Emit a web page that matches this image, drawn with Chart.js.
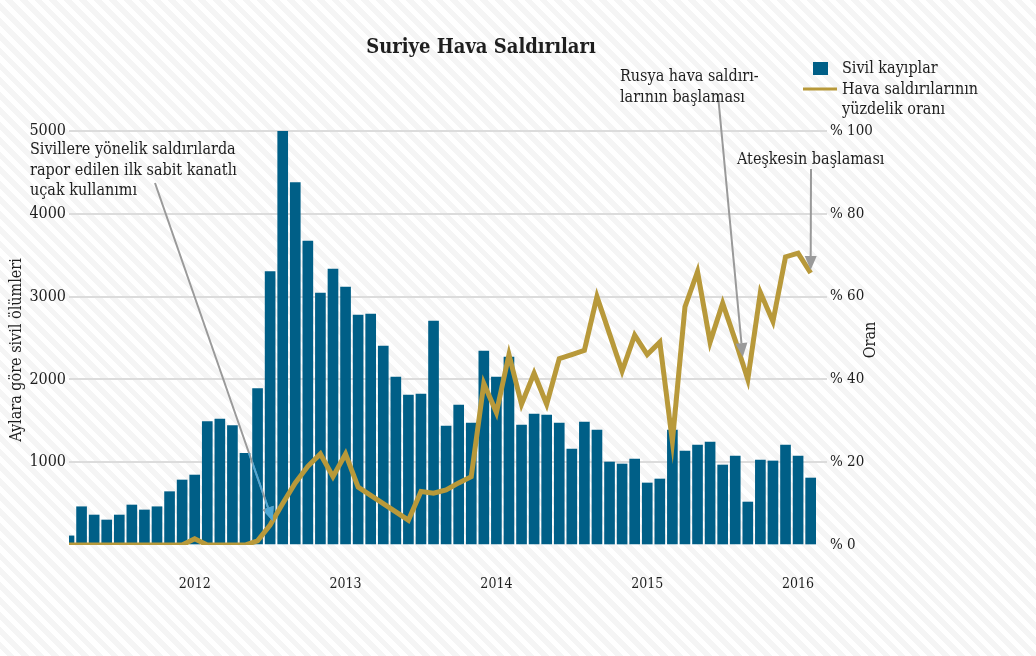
<!DOCTYPE html>
<html>
<head>
<meta charset="utf-8">
<script src="https://cdn.jsdelivr.net/npm/chart.js@4.4.1/dist/chart.umd.min.js"></script>
<style>
  html, body { margin: 0; padding: 0; }
  body {
    width: 1036px; height: 656px; overflow: hidden;
    background: repeating-linear-gradient(45deg, #ffffff 0px, #ffffff 5px, #f5f5f5 5px, #f5f5f5 10.5px);
  }
  canvas { display: block; }
</style>
</head>
<body>
<canvas id="chart" width="1036" height="656"></canvas>
<script>
// Monthly data, March 2011 - February 2016
const months = [
  '2011-03','2011-04','2011-05','2011-06','2011-07','2011-08','2011-09','2011-10','2011-11','2011-12',
  '2012-01','2012-02','2012-03','2012-04','2012-05','2012-06','2012-07','2012-08','2012-09','2012-10','2012-11','2012-12',
  '2013-01','2013-02','2013-03','2013-04','2013-05','2013-06','2013-07','2013-08','2013-09','2013-10','2013-11','2013-12',
  '2014-01','2014-02','2014-03','2014-04','2014-05','2014-06','2014-07','2014-08','2014-09','2014-10','2014-11','2014-12',
  '2015-01','2015-02','2015-03','2015-04','2015-05','2015-06','2015-07','2015-08','2015-09','2015-10','2015-11','2015-12',
  '2016-01','2016-02'
];

// civilian deaths per month
const civilianDeaths = [
  110, 462, 362, 302, 362, 483, 423, 462, 644, 785,
  845, 1490, 1522, 1441, 1107, 1888, 3301, 5000, 4376, 3671, 3043, 3333,
  3116, 2778, 2790, 2403, 2029, 1812, 1824, 2705, 1437, 1691, 1473, 2343,
  2029, 2271, 1449, 1582, 1570, 1473, 1159, 1485, 1389, 1002, 978, 1039,
  749, 797, 1389, 1135, 1208, 1244, 966, 1075, 519, 1027, 1015, 1208,
  1075, 809
];

// share of deaths caused by air strikes (%)
const airStrikeShare = [
  0, 0, 0, 0, 0, 0, 0, 0, 0, 0,
  1.5, 0, 0, 0, 0, 1, 4.8, 10, 15, 19, 22, 16.5,
  22, 14, 12, 10, 8, 6, 12.9, 12.5, 13.3, 15, 16.5, 39,
  32, 46, 34, 41.5, 34, 45, 46, 47, 60, 51, 42, 50.7,
  46, 49, 25, 57.5, 66, 49, 58.4, 49.5, 40, 61, 54, 69.6,
  70.5, 65.7
];

const seriesNames = ['Sivil kayıplar', 'Hava saldırılarının\nyüzdelik oranı'];
const deathTicks = [0, 1000, 2000, 3000, 4000, 5000];
const shareTicks = [0, 20, 40, 60, 80, 100];

// year ticks sit on each January
const yearTicks = months
  .map((m, i) => ({ m, i }))
  .filter(d => d.m.endsWith('-01'))
  .map(d => ({ value: d.i, label: d.m.slice(0, 4) }));

const colors = {
  bar: '#005f87',
  line: '#b8993a',
  grid: '#dcdcdc',
  text: '#1e1e1e',
  arrow: '#9a9a9a',
  arrowOnBar: '#4ea8d6'
};

const serif = '"DejaVu Serif Condensed", "DejaVu Serif", serif';

// annotation arrows: start in pixels (under the text), tip in data units
const notes = [
  { lines: ['Sivillere yönelik saldırılarda', 'rapor edilen ilk sabit kanatlı', 'uçak kullanımı'],
    x: 30, y: 150, from: [155, 183], tip: [16.2, 5.8], overBars: true },
  { lines: ['Rusya hava saldırı-', 'larının başlaması'],
    x: 620, y: 77, from: [718, 95], tip: [53.6, 45.4] },
  { lines: ['Ateşkesin başlaması'],
    x: 737, y: 160, from: [811, 169], tip: [59, 66.4] }
];

function drawArrow(ctx, x1, y1, x2, y2, color) {
  const ang = Math.atan2(y2 - y1, x2 - x1);
  const len = 14, half = 6;
  const bx = x2 - Math.cos(ang) * len, by = y2 - Math.sin(ang) * len;
  ctx.strokeStyle = color;
  ctx.fillStyle = color;
  ctx.lineWidth = 2;
  ctx.beginPath();
  ctx.moveTo(x1, y1);
  ctx.lineTo(bx, by);
  ctx.stroke();
  ctx.beginPath();
  ctx.moveTo(x2, y2);
  ctx.lineTo(bx + Math.sin(ang) * half, by - Math.cos(ang) * half);
  ctx.lineTo(bx - Math.sin(ang) * half, by + Math.cos(ang) * half);
  ctx.closePath();
  ctx.fill();
}

const decorPlugin = {
  id: 'decor',
  afterDatasetsDraw(chart) {
    const { ctx, scales } = chart;
    const barMeta = chart.getDatasetMeta(1);
    notes.forEach(n => {
      const tx = scales.x.getPixelForValue(n.tip[0]);
      const ty = scales.y2.getPixelForValue(n.tip[1]);
      ctx.save();
      drawArrow(ctx, n.from[0], n.from[1], tx, ty, colors.arrow);
      if (n.overBars) {
        // the part crossing the bars turns light blue
        ctx.beginPath();
        barMeta.data.forEach(el => {
          const p = el.getProps(['x', 'y', 'base', 'width'], true);
          ctx.rect(p.x - p.width / 2, p.y, p.width, p.base - p.y);
        });
        ctx.clip();
        drawArrow(ctx, n.from[0], n.from[1], tx, ty, colors.arrowOnBar);
      }
      ctx.restore();
    });
  },
  afterDraw(chart) {
    const { ctx } = chart;
    ctx.save();
    ctx.fillStyle = colors.text;
    ctx.textBaseline = 'middle';

    // title
    ctx.font = 'bold 20px ' + serif;
    ctx.textAlign = 'center';
    ctx.fillText('Suriye Hava Saldırıları', 481, 48);

    // annotation texts
    ctx.font = '16px ' + serif;
    ctx.textAlign = 'left';
    notes.forEach(n => {
      n.lines.forEach((t, k) => ctx.fillText(t, n.x, n.y + k * 20.5));
    });

    // legend
    ctx.fillStyle = colors.bar;
    ctx.fillRect(813, 62, 15, 13);
    ctx.strokeStyle = colors.line;
    ctx.lineWidth = 3;
    ctx.beginPath();
    ctx.moveTo(803, 89);
    ctx.lineTo(837, 89);
    ctx.stroke();
    ctx.fillStyle = colors.text;
    ctx.fillText(seriesNames[0], 842, 69);
    seriesNames[1].split('\n').forEach((t, k) => ctx.fillText(t, 842, 90 + k * 20));

    // axis titles
    ctx.font = '16px ' + serif;
    ctx.textAlign = 'center';
    ctx.save();
    ctx.translate(17, 350);
    ctx.rotate(-Math.PI / 2);
    ctx.fillText('Aylara göre sivil ölümleri', 0, 0);
    ctx.restore();
    ctx.save();
    ctx.translate(871, 340);
    ctx.rotate(-Math.PI / 2);
    ctx.fillText('Oran', 0, 0);
    ctx.restore();
    ctx.restore();
  }
};

new Chart(document.getElementById('chart'), {
  type: 'bar',
  data: {
    datasets: [
      {
        type: 'line',
        label: seriesNames[1],
        data: airStrikeShare.map((v, i) => ({ x: i, y: v })),
        yAxisID: 'y2',
        borderColor: colors.line,
        borderWidth: 5,
        pointRadius: 0,
        tension: 0,
        borderJoinStyle: 'miter',
        order: 0
      },
      {
        type: 'bar',
        label: seriesNames[0],
        data: civilianDeaths.map((v, i) => ({ x: i, y: v })),
        yAxisID: 'y',
        backgroundColor: colors.bar,
        barThickness: 10,
        order: 1
      }
    ]
  },
  options: {
    responsive: false,
    devicePixelRatio: 1,
    animation: false,
    layout: { padding: { top: 131, left: 0, right: 0, bottom: 0 } },
    plugins: {
      legend: { display: false },
      tooltip: { enabled: false },
      title: { display: false }
    },
    scales: {
      x: {
        type: 'linear',
        offset: false,
        min: 0,
        max: 60.3,
        grid: { display: false, drawTicks: false, offset: false },
        border: { display: false },
        afterBuildTicks: s => { s.ticks = yearTicks.map(t => ({ value: t.value })); },
        ticks: {
          autoSkip: false,
          maxRotation: 0,
          padding: 31,
          color: colors.text,
          font: { family: serif, size: 14 },
          callback: v => (yearTicks.find(t => t.value === v) || {}).label
        },
        afterFit: s => { s.height = 111; }
      },
      y: {
        position: 'left',
        min: 0,
        max: 5000,
        afterBuildTicks: s => { s.ticks = deathTicks.map(v => ({ value: v })); },
        grid: {
          color: c => (c.tick && c.tick.value === 0 ? 'rgba(0,0,0,0)' : colors.grid),
          lineWidth: 2,
          drawTicks: false
        },
        border: { display: false },
        ticks: {
          padding: 3,
          color: colors.text,
          font: { family: serif, size: 16 },
          callback: v => (v === 0 ? '' : String(v))
        },
        afterFit: s => { s.width = 69; }
      },
      y2: {
        position: 'right',
        min: 0,
        max: 100,
        afterBuildTicks: s => { s.ticks = shareTicks.map(v => ({ value: v })); },
        grid: { drawOnChartArea: false, drawTicks: false },
        border: { display: false },
        ticks: {
          padding: 3,
          color: colors.text,
          font: { family: serif, size: 15 },
          callback: v => '% ' + v
        },
        afterFit: s => { s.width = 209; }
      }
    }
  },
  plugins: [decorPlugin]
});
</script>
</body>
</html>
